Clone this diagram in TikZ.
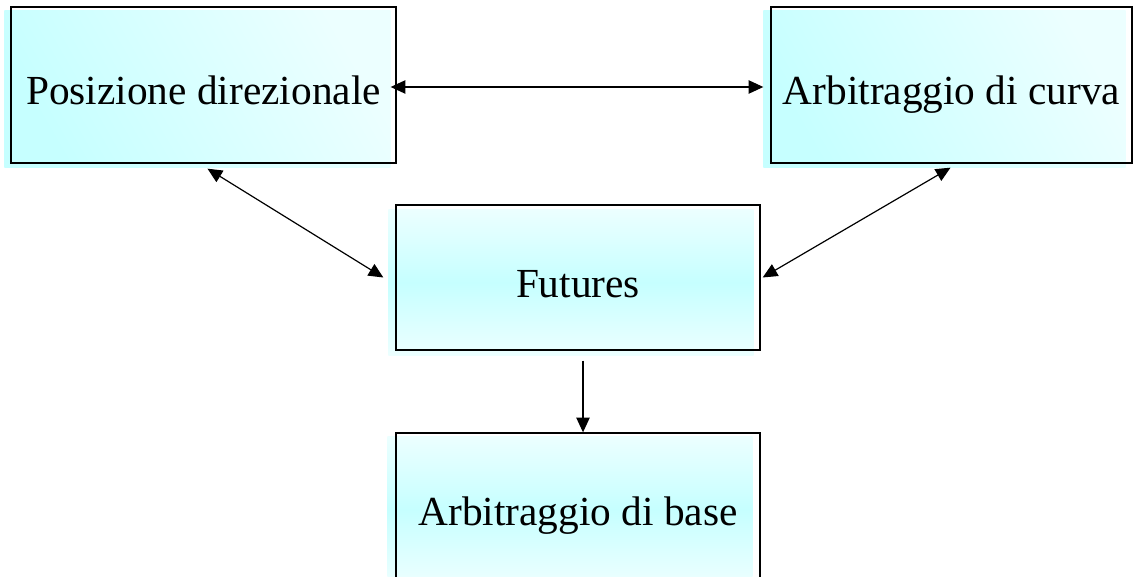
\documentclass[tikz,border=0pt]{standalone}
\usepackage{fontspec}
\setmainfont{Liberation Serif}
\usetikzlibrary{arrows.meta,backgrounds}

\definecolor{boxcyan}{RGB}{198,255,255}
\definecolor{boxpale}{RGB}{236,255,255}

\begin{document}
\begin{tikzpicture}[x=0.75pt,y=0.75pt,yscale=-1,xscale=1,
  box/.style={draw, line width=1pt, inner sep=0pt, text height=30pt, text depth=0pt,
    font=\fontsize{31}{37}\selectfont},
  slantfill/.style={left color=boxcyan, right color=boxpale, shading angle=120},
  bandfill/.style={top color=boxpale, bottom color=boxpale, middle color=boxcyan},
  link/.style={line width=0.9pt, -{Triangle[length=11pt,width=10pt]}},
  dlink/.style={line width=0.9pt, {Triangle[length=11pt,width=10pt]}-{Triangle[length=11pt,width=10pt]}}]
\clip (0,0) rectangle (1137,577);
\useasboundingbox (0,0) rectangle (1137,577);

\node[box, minimum width=385*0.75pt, minimum height=156*0.75pt] (pos) at (203.5,85) {Posizione direzionale};
\node[box, minimum width=361*0.75pt, minimum height=156*0.75pt] (curva) at (951.5,85) {Arbitraggio di curva};
\node[box, minimum width=364*0.75pt, minimum height=145*0.75pt] (fut) at (578,277.5) {Futures};
\node[box, minimum width=364*0.75pt, minimum height=145*0.75pt] (base) at (578,505.5) {Arbitraggio di base};

% fills sit a little left and below the outlines
\begin{scope}[on background layer]
\shade[slantfill] ([shift={(-6,4)}]pos.south west) rectangle ([shift={(-6,4)}]pos.north east);
\shade[slantfill] ([shift={(-7,4)}]curva.south west) rectangle ([shift={(-7,4)}]curva.north east);
\shade[bandfill] ([shift={(-7,5)}]fut.south west) rectangle ([shift={(-7,5)}]fut.north east);
\shade[bandfill] ([shift={(-8,4)}]base.south west) rectangle ([shift={(-8,4)}]base.north east);
\end{scope}

\draw[dlink] ([shift={(-6,2)}]pos.east) -- ([shift={(-7,2)}]curva.west);
\draw[dlink] ([shift={(4,5)}]pos.south) -- ([shift={(-12,0)}]fut.west);
\draw[dlink] ([shift={(2,0)}]fut.east) -- ([shift={(-1,4)}]curva.south);
\draw[link] ([shift={(5,10)}]fut.south) -- ([shift={(5,0)}]base.north);

\end{tikzpicture}
\end{document}
